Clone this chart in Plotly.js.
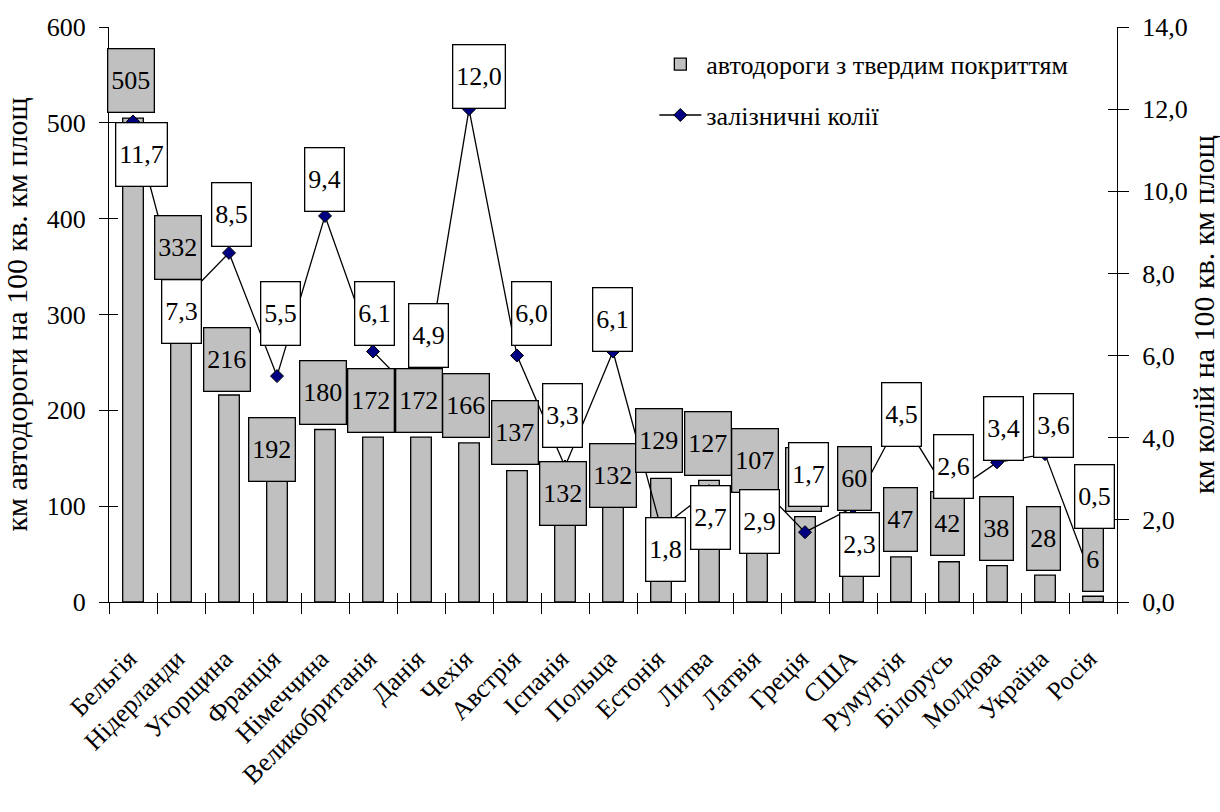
<!DOCTYPE html>
<html>
<head>
<meta charset="utf-8">
<script src="https://cdn.plot.ly/plotly-3.0.1.min.js"></script>
</head>
<body style="margin:0;background:#fff">
<div id="railroadplot" style="width:1220px;height:812px"></div>
<script>
// ---- data ----
const countries = ["Бельгія","Нідерланди","Угорщина","Франція","Німеччина","Великобританія","Данія","Чехія","Австрія","Іспанія","Польща","Естонія","Литва","Латвія","Греція","США","Румунуія","Білорусь","Молдова","Україна","Росія"];
const roadDensity = [505,332,216,192,180,172,172,166,137,132,132,129,127,107,89,60,47,42,38,28,6];
const railDensity = [11.7,7.3,8.5,5.5,9.4,6.1,4.9,12.0,6.0,3.3,6.1,1.8,2.7,2.9,1.7,2.3,4.5,2.6,3.4,3.6,0.5];
const seriesNames = ["автодороги з твердим покриттям","залізничні колії"];
const leftAxisTitle = "км автодороги на 100 кв. км площ";
const rightAxisTitle = "км колій на 100 кв. км площ";

// ---- label placement (pixel offsets of label centres from their point) ----
const roadLabelDx = [-2.5,-3.5,-2.5,-5,-2.5,-2.5,-2.5,-3.5,-2.5,-2.5,0,-2.5,-1.5,-2,-2,1,-1,-2,-1,-1.5,-0.5];
const roadLabelDy = [37.5,36.5,36,-31.5,37.5,37,36.5,37,38,-17.5,0,37.5,37,38.5,37,66.5,37.5,38,37.5,37,37];
const roadLabelHidden = [14]; // label lying fully under another label in the reference
const railLabelDx = [8.5,0,2.5,3.5,-0.5,1.5,7.5,10,14.5,-2.5,-0.5,4,1.5,2.5,3.5,6,0.5,4.5,6,8.5,1];
const railLabelDy = [-33.5,-9,38,62.5,36.5,38,65.5,33,42,50.5,31.5,-21,-26,-39,57.5,-37,3,29,33.5,29,84.5];

const SERIF = 'Times New Roman';
const fmt1 = v => v.toFixed(1).replace('.', ',');

const traces = [
  {
    type: 'bar', name: seriesNames[0], x: countries, y: roadDensity,
    marker: {color: '#C0C0C0', line: {color: '#000', width: 1.3}},
    xaxis: 'x', yaxis: 'y', legendgroup: 'a', hoverinfo: 'x+y'
  },
  {
    type: 'scatter', mode: 'lines+markers', name: seriesNames[1], x: countries, y: railDensity,
    line: {color: '#000', width: 1.3},
    marker: {symbol: 'diamond', size: 10, color: '#000080', line: {color: '#000', width: 1}},
    xaxis: 'x', yaxis: 'y2', legendgroup: 'b', hoverinfo: 'x+y'
  },
  // invisible helpers so the inner halves of the crossing tick marks are drawn
  {type: 'scatter', mode: 'markers', x: countries, y: roadDensity, xaxis: 'x2', yaxis: 'y3',
   marker: {opacity: 0}, showlegend: false, hoverinfo: 'skip'},
  {type: 'scatter', mode: 'markers', x: countries, y: railDensity, xaxis: 'x2', yaxis: 'y4',
   marker: {opacity: 0}, showlegend: false, hoverinfo: 'skip'}
];

const annotations = [];
countries.forEach((c, i) => {
  const hidden = roadLabelHidden.includes(i);
  const a = {
    x: c, y: roadDensity[i], xref: 'x', yref: 'y', showarrow: false,
    text: hidden ? '\u00a0' : String(roadDensity[i]),
    font: {family: SERIF, size: 26},
    bgcolor: '#C0C0C0', bordercolor: '#000', borderwidth: 1.3, borderpad: 3, height: 56,
    xanchor: 'center', yanchor: 'middle', xshift: roadLabelDx[i], yshift: roadLabelDy[i]
  };
  if (hidden) a.width = 28;
  annotations.push(a);
});
countries.forEach((c, i) => {
  annotations.push({
    x: c, y: railDensity[i], xref: 'x', yref: 'y2', showarrow: false,
    text: fmt1(railDensity[i]), font: {family: SERIF, size: 26},
    bgcolor: '#FFFFFF', bordercolor: '#000', borderwidth: 1.3, borderpad: 3, height: 56,
    xanchor: 'center', yanchor: 'middle', xshift: railLabelDx[i], yshift: railLabelDy[i]
  });
});

const layout = {
  width: 1220, height: 812,
  margin: {l: 109, r: 103, t: 27, b: 210},
  paper_bgcolor: '#fff', plot_bgcolor: '#fff',
  separators: ', ',
  font: {family: SERIF, size: 26, color: '#000'},
  bargap: 0.57,
  showlegend: true,
  legend: {
    x: 0.541, y: 0.976, xanchor: 'left', yanchor: 'top',
    font: {family: SERIF, size: 26},
    bgcolor: 'rgba(0,0,0,0)', borderwidth: 0, itemwidth: 42, tracegroupgap: 14,
    traceorder: 'grouped'
  },
  xaxis: {
    type: 'category', range: [-0.5, 20.5], tickson: 'boundaries',
    ticks: 'outside', ticklen: 11, tickwidth: 1.3, tickcolor: '#000',
    showline: true, linecolor: '#000', linewidth: 1.3, showgrid: false, zeroline: false,
    tickangle: -45, tickfont: {family: SERIF, size: 26}, ticklabelstandoff: 30, ticklabelshift: -4
  },
  xaxis2: {
    type: 'category', range: [-0.5, 20.5], overlaying: 'x', anchor: 'y', side: 'bottom',
    tickson: 'boundaries', ticks: 'inside', ticklen: 9, tickwidth: 1.3, tickcolor: '#000',
    showticklabels: false, showline: false, showgrid: false, zeroline: false
  },
  yaxis: {
    range: [0, 600], dtick: 100, ticks: 'outside', ticklen: 9, tickwidth: 1.3, tickcolor: '#000',
    showline: true, linecolor: '#000', linewidth: 1.3, showgrid: false, zeroline: false,
    tickfont: {family: SERIF, size: 26}, ticklabelstandoff: 8,
    title: {text: leftAxisTitle, font: {family: SERIF, size: 30}, standoff: 12}
  },
  yaxis2: {
    range: [0, 14], dtick: 2, tickformat: '.1f', overlaying: 'y', side: 'right', anchor: 'x',
    ticks: 'outside', ticklen: 11, tickwidth: 1.3, tickcolor: '#000',
    showline: true, linecolor: '#000', linewidth: 1.3, showgrid: false, zeroline: false,
    tickfont: {family: SERIF, size: 26}, ticklabelstandoff: 8,
    title: {text: rightAxisTitle, font: {family: SERIF, size: 30}, standoff: 16}
  },
  yaxis3: {
    range: [0, 600], dtick: 100, overlaying: 'y', anchor: 'x', side: 'left',
    ticks: 'inside', ticklen: 9, tickwidth: 1.3, tickcolor: '#000',
    showticklabels: false, showline: false, showgrid: false, zeroline: false
  },
  yaxis4: {
    range: [0, 14], dtick: 2, overlaying: 'y', anchor: 'x', side: 'right',
    ticks: 'inside', ticklen: 9, tickwidth: 1.3, tickcolor: '#000',
    showticklabels: false, showline: false, showgrid: false, zeroline: false
  },
  annotations: annotations
};

function forceSerif(gd) {
  gd.querySelectorAll('text').forEach(t => {
    t.style.setProperty('font-family', "'Liberation Serif', 'Times New Roman', serif", 'important');
  });
}

Plotly.newPlot('railroadplot', traces, layout, {displayModeBar: false}).then(gd => {
  forceSerif(gd);
  gd.on('plotly_afterplot', () => forceSerif(gd));
});
</script>
</body>
</html>
